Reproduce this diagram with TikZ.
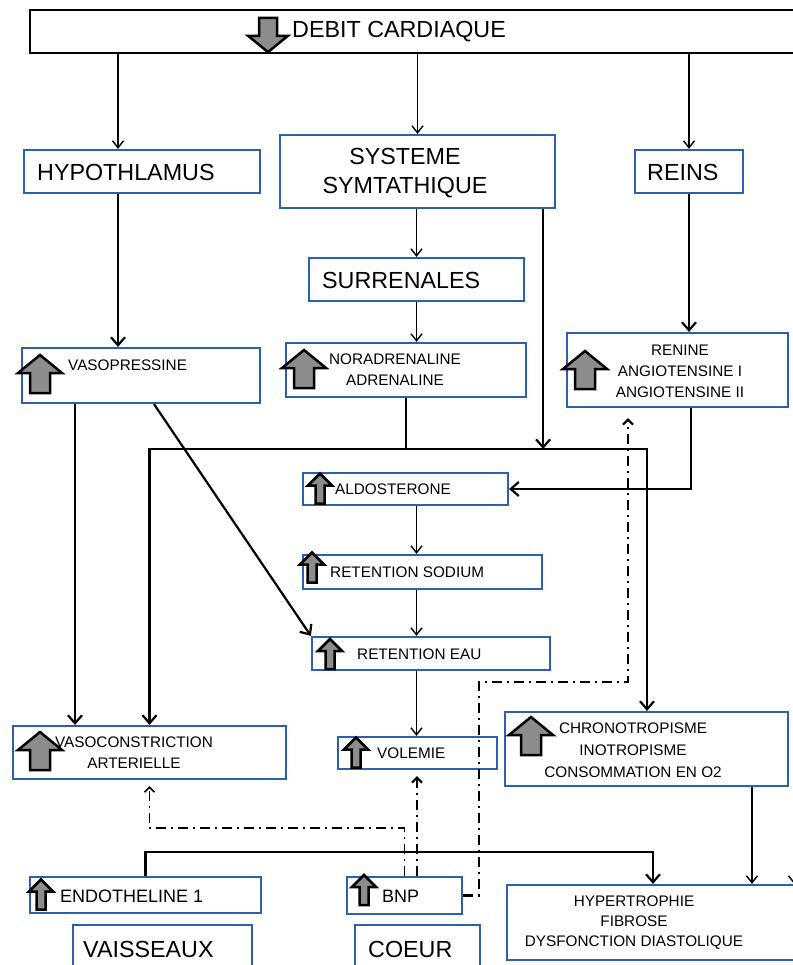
\documentclass[tikz,border=0pt]{standalone}
\usepackage{fontspec}
\setmainfont{Liberation Sans}
\usetikzlibrary{arrows.meta,calc}
\definecolor{boxblue}{RGB}{44,96,170}
\definecolor{icongray}{RGB}{140,140,140}
\newcommand{\grand}{\fontsize{23.3}{29}\selectfont}
\newcommand{\moyen}{\fontsize{18}{22}\selectfont}
\newcommand{\petit}{\fontsize{15.3}{21}\selectfont}
\tikzset{
  box/.style={draw=boxblue, line width=2.2pt, inner sep=0pt},
  lbl/.style={inner sep=0pt, font=\petit, anchor=west},
  lblc/.style={inner sep=0pt, font=\petit, align=center},
  fin/.style={line width=1.4pt, -{Straight Barb[length=7pt,width=11pt]}},
  gros/.style={line width=2.2pt, -{Straight Barb[length=8pt,width=14pt]}},
  dbl/.style={line width=2.2pt, {Straight Barb[length=8pt,width=14pt]}-{Straight Barb[length=8pt,width=14pt]}},
  trait/.style={line width=2.2pt},
  pointille/.style={line width=2.2pt, dash pattern=on 10pt off 5pt on 2pt off 5pt,
    shorten >=6pt, -{Straight Barb[length=5pt,width=10pt]}},
  bigup/.pic={\draw[line width=2.5pt, fill=icongray] (0,-19) -- (22,-1) -- (10,-1) -- (10,19) -- (-10,19) -- (-10,-1) -- (-22,-1) -- cycle;},
  smallup/.pic={\draw[line width=2.5pt, fill=icongray] (0,-15) -- (12,-3) -- (4.5,-3) -- (4.5,15) -- (-4.5,15) -- (-4.5,-3) -- (-12,-3) -- cycle;}
}
\begin{document}
\begin{tikzpicture}[x=1pt, y=-1pt]
    \useasboundingbox (0,0) rectangle (792,965);
    % 顶部
    \node[draw, line width=2.2pt, inner sep=0pt, minimum width=780, minimum height=43] (debit) at (420,31.5) {};
    \pic[rotate=180, scale=0.9] at (268,35) {bigup};
    \node[lbl, font=\grand] at (292,32) {DEBIT CARDIAQUE};

    % 第一行
    \node[box, minimum width=236, minimum height=43] (hyp) at (142,171.5) {};
    \node[lbl, font=\grand] at (37,172) {HYPOTHLAMUS};
    \node[box, minimum width=275, minimum height=73] (sys) at (417.5,171.5) {};
    \node[lblc, font=\grand] at (405,173) {SYSTEME\\SYMTATHIQUE};
    \node[box, minimum width=108, minimum height=43] (reins) at (689,171.5) {};
    \node[lbl, font=\grand] at (647,172) {REINS};
    \node[box, minimum width=215, minimum height=43] (surr) at (416.5,279.5) {};
    \node[lbl, font=\grand] at (322,280) {SURRENALES};

    % 激素
    \node[box, minimum width=238, minimum height=55] (vaso) at (141,375.5) {};
    \pic at (40,374) {bigup};
    \node[lbl] at (68,365) {VASOPRESSINE};
    \node[box, minimum width=240, minimum height=54] (nora) at (406,370) {};
    \pic at (304,369) {bigup};
    \node[lblc] at (395,370) {NORADRENALINE\\ADRENALINE};
    \node[box, minimum width=221, minimum height=74] (ren) at (677.5,370) {};
    \pic at (585,370) {bigup};
    \node[lblc] at (680,371) {RENINE\\ANGIOTENSINE I\\ANGIOTENSINE II};

    % 中间一列
    \node[box, minimum width=205, minimum height=32] (aldo) at (405.5,489) {};
    \pic at (320,488.5) {smallup};
    \node[lbl] at (335,489) {ALDOSTERONE};
    \node[box, minimum width=239, minimum height=34] (sod) at (422.5,572) {};
    \pic at (312,567.5) {smallup};
    \node[lbl] at (330,572) {RETENTION SODIUM};
    \node[box, minimum width=238, minimum height=33] (eau) at (431,653.5) {};
    \pic at (330,654) {smallup};
    \node[lbl] at (357,654) {RETENTION EAU};

    % 效应
    \node[box, minimum width=273, minimum height=53] (vasoc) at (149.5,752.5) {};
    \pic at (40,751) {bigup};
    \node[lblc] at (134,753) {VASOCONSTRICTION\\ARTERIELLE};
    \node[box, minimum width=159, minimum height=32] (vol) at (417.5,753) {};
    \pic at (356,752.5) {smallup};
    \node[lbl] at (377,753) {VOLEMIE};
    \node[box, minimum width=283, minimum height=74] (chr) at (646.5,749) {};
    \pic at (531,736) {bigup};
    \node[lblc, font=\fontsize{15.3}{22}\selectfont] at (633,750) {CHRONOTROPISME\\INOTROPISME\\CONSOMMATION EN O2};

    % 底部
    \node[box, minimum width=231, minimum height=36] (endo) at (145.5,895) {};
    \pic at (41,894.5) {smallup};
    \node[lbl, font=\moyen] at (60,896) {ENDOTHELINE 1};
    \node[box, minimum width=115, minimum height=37] (bnp) at (404.5,895.5) {};
    \pic at (364,890) {smallup};
    \node[lbl, font=\moyen] at (382,896) {BNP};
    \node[box, minimum width=300, minimum height=75] (hyper) at (657,922.5) {};
    \node[lblc, font=\fontsize{15.3}{20}\selectfont] at (634,923) {HYPERTROPHIE\\FIBROSE\\DYSFONCTION DIASTOLIQUE};
    \node[box, minimum width=179, minimum height=65] (vais) at (162.5,957.5) {};
    \node[lbl, font=\grand] at (83,949) {VAISSEAUX};
    \node[box, minimum width=125, minimum height=65] (coeur) at (417.5,957.5) {};
    \node[lbl, font=\grand] at (368,949) {COEUR};

    % 连线
    \coordinate (hypin) at ([xshift=-24pt]hyp.north);
    \draw[fin] (debit.south -| hypin) -- (hypin);
    \draw[fin] (debit.south -| sys.north) -- (sys.north);
    \draw[fin] (debit.south -| reins.north) -- (reins.north);
    \draw[gros] (hyp.south -| hypin) -- (vaso.north -| hypin);
    \draw[fin] (sys.south -| surr.north) -- (surr.north);
    \draw[fin] (surr.south) -- (surr.south |- nora.north);
    \draw[gros] (reins.south) -- (reins.south |- ren.north);

    \coordinate (busl) at (149.5,449);
    \coordinate (busr) at (647,449);
    \coordinate (sysr) at ([xshift=-13pt]sys.south east);
    \draw[dbl] (vasoc.north -| busl) -- (busl) -- (busr) -- (chr.north -| busr);
    \draw[trait] (nora.south) -- (nora.south |- busl);
    \draw[gros] (sysr) -- (sysr |- busl);

    \coordinate (vasol) at ([xshift=-66pt]vaso.south);
    \draw[gros] (vasol) -- (vasol |- vasoc.north);
    \draw[gros] ([xshift=13pt]vaso.south) -- (eau.north west);

    \coordinate (renb) at ([xshift=13.5pt]ren.south);
    \draw[gros] (renb) |- (aldo.east);

    \draw[fin] (aldo.south -| surr.south) -- (sod.north -| surr.south);
    \draw[fin] (sod.south -| surr.south) -- (eau.north -| surr.south);
    \draw[fin] (eau.south -| surr.south) -- (vol.north -| surr.south);

    \coordinate (chrb) at ([xshift=105.5pt]chr.south);
    \draw[fin] (chrb) -- (chrb |- hyper.north);
    \coordinate (bord) at (794,786);
    \draw[fin] (bord) -- (bord |- hyper.north);

    \coordinate (hyph) at (653,852);
    \draw[gros] (endo.north) |- (hyph) -- (hyph |- hyper.north);

    % BNP
    \coordinate (bnpv) at ([xshift=12.5pt]bnp.north);
    \draw[pointille] (bnpv) -- (bnpv |- vol.south);
    \coordinate (retv) at (149.5,828);
    \draw[pointille, line width=1.6pt] (bnp.north) |- (retv) -- (vasoc.south);
    \coordinate (bnpd) at (479,682);
    \coordinate (renv) at (628,682);
    \draw[pointille, shorten >=10pt] (bnp.east) -| (bnpd) -- (renv) -- (renv |- ren.south);
\end{tikzpicture}
\end{document}
